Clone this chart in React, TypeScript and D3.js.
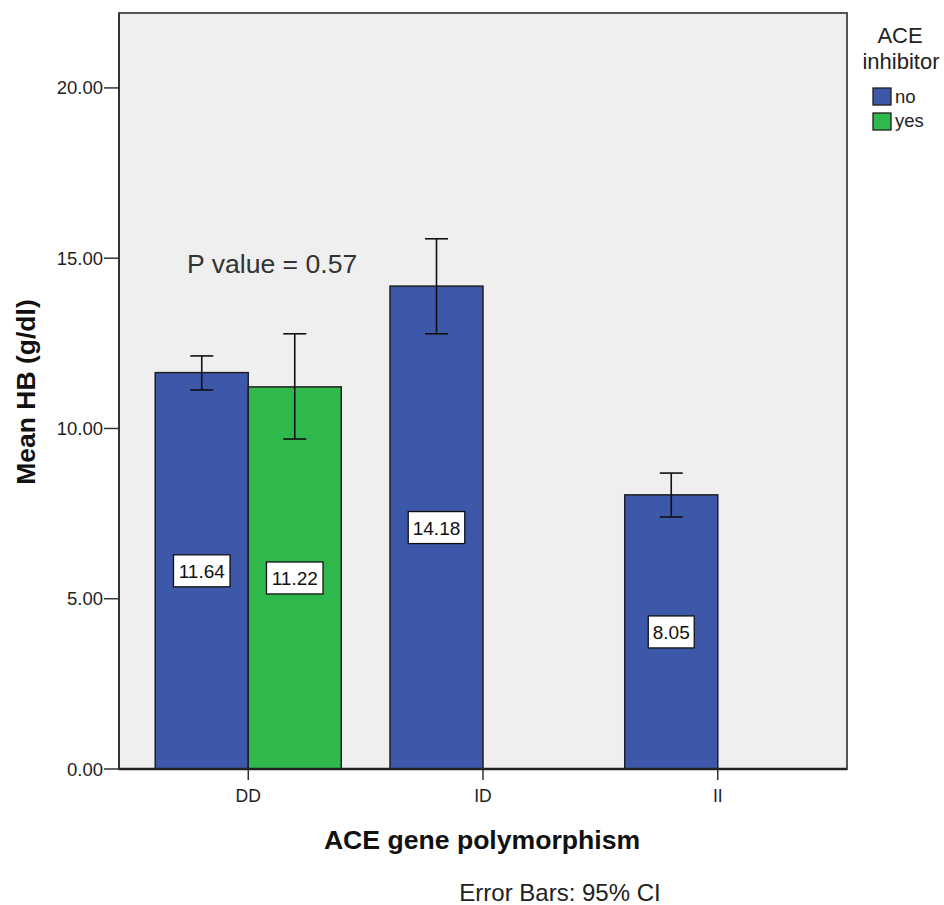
import React from "react";
import * as d3 from "d3";

const categories = ["DD", "ID", "II"];
const groups = ["no", "yes"];
const meansNo: (number | null)[] = [11.64, 14.18, 8.05];
const meansYes: (number | null)[] = [11.22, null, null];
const ciLowNo: (number | null)[] = [11.13, 12.78, 7.4];
const ciHighNo: (number | null)[] = [12.13, 15.57, 8.69];
const ciLowYes: (number | null)[] = [9.69, null, null];
const ciHighYes: (number | null)[] = [12.78, null, null];
const yTicks = [0, 5, 10, 15, 20];
const groupColors = ["#3d57a9", "#2fb84b"];

const W = 944;
const H = 905;
const left = 119;
const right = 847;
const top = 13;
const bottom = 769;
const FONT = "'Liberation Sans', Arial, sans-serif";

function textW(s: string, size: number) {
  let w = 0;
  for (const c of s) w += c === "." ? 0.278 : 0.556;
  return w * size;
}

export default function App() {
  const y = d3.scaleLinear().domain([0, 22.2]).range([bottom, top]);
  const x0 = d3
    .scaleBand<string>()
    .domain(categories)
    .range([left, right])
    .paddingInner(0)
    .paddingOuter(0.0506);
  const x1 = d3
    .scaleBand<string>()
    .domain(groups)
    .range([0, x0.bandwidth()])
    .paddingInner(0)
    .paddingOuter(0.262);
  const fmt = d3.format(".2f");

  const series = [
    { key: "no", means: meansNo, lo: ciLowNo, hi: ciHighNo, color: groupColors[0] },
    { key: "yes", means: meansYes, lo: ciLowYes, hi: ciHighYes, color: groupColors[1] },
  ];

  const bars: any[] = [];
  const errs: any[] = [];
  const labels: any[] = [];
  series.forEach((s) => {
    categories.forEach((c, i) => {
      const m = s.means[i];
      if (m == null) return;
      const bx = (x0(c) as number) + (x1(s.key) as number);
      const bw = x1.bandwidth();
      bars.push(
        <rect key={`b-${s.key}-${c}`} x={bx} y={y(m)} width={bw} height={y(0) - y(m)}
          fill={s.color} stroke="#1f1f1f" strokeWidth={1.5} />
      );
      const cx = bx + bw / 2;
      const lo = s.lo[i] as number;
      const hi = s.hi[i] as number;
      errs.push(
        <g key={`e-${s.key}-${c}`} stroke="#111" strokeWidth={1.6}>
          <line x1={cx} x2={cx} y1={y(hi)} y2={y(lo)} />
          <line x1={cx - 11.5} x2={cx + 11.5} y1={y(hi)} y2={y(hi)} />
          <line x1={cx - 11.5} x2={cx + 11.5} y1={y(lo)} y2={y(lo)} />
        </g>
      );
      const txt = fmt(m);
      const tw = textW(txt, 19) + 9;
      const ly = y(m / 2);
      labels.push(
        <g key={`l-${s.key}-${c}`}>
          <rect x={cx - tw / 2} y={ly - 16} width={tw} height={32} fill="#fff" stroke="#111" strokeWidth={1.3} />
          <text x={cx} y={ly + 7} textAnchor="middle" fontSize={19} fontFamily={FONT} fill="#111">{txt}</text>
        </g>
      );
    });
  });

  return (
    <svg width={W} height={H} style={{ position: "absolute", left: 0, top: 0 }} fontFamily={FONT}>
      <rect x={0} y={0} width={W} height={H} fill="#fff" />
      <rect x={left} y={top} width={right - left} height={bottom - top} fill="#efefef" stroke="#555" strokeWidth={2} />
      {bars}
      {errs}
      {labels}
      <line x1={left} x2={right} y1={bottom} y2={bottom} stroke="#222" strokeWidth={2.5} />
      <line x1={left} x2={left} y1={top} y2={bottom} stroke="#333" strokeWidth={2} />
      {yTicks.map((t) => (
        <g key={`yt-${t}`}>
          <line x1={left - 15} x2={left} y1={y(t)} y2={y(t)} stroke="#333" strokeWidth={1.5} />
          <text x={left - 16} y={y(t) + 6.5} textAnchor="end" fontSize={18.5} fill="#222">{fmt(t)}</text>
        </g>
      ))}
      {categories.map((c) => {
        const cx = (x0(c) as number) + x0.bandwidth() / 2;
        return (
          <g key={`xt-${c}`}>
            <line x1={cx} x2={cx} y1={bottom} y2={bottom + 11} stroke="#333" strokeWidth={1.5} />
            <text x={cx} y={802} textAnchor="middle" fontSize={17.5} fill="#222">{c}</text>
          </g>
        );
      })}
      <text x={187} y={273} fontSize={26.6} fill="#333">P value = 0.57</text>
      <text x={482} y={849} textAnchor="middle" fontSize={26.6} fontWeight="bold" fill="#111">ACE gene polymorphism</text>
      <text transform={`translate(35, 392) rotate(-90)`} textAnchor="middle" fontSize={26.5} fontWeight="bold" fill="#111">Mean HB (g/dl)</text>
      <text x={560} y={901} textAnchor="middle" fontSize={24} fill="#222">Error Bars: 95% CI</text>
      <text x={900} y={43} textAnchor="middle" fontSize={22} fill="#222">ACE</text>
      <text x={901} y={69} textAnchor="middle" fontSize={22} fill="#222">inhibitor</text>
      {groups.map((g, i) => (
        <g key={`lg-${g}`}>
          <rect x={873} y={88 + i * 25} width={18} height={17} fill={groupColors[i]} stroke="#1f1f1f" strokeWidth={1.3} />
          <text x={895} y={103 + i * 24} fontSize={18.5} fill="#222">{g}</text>
        </g>
      ))}
    </svg>
  );
}
